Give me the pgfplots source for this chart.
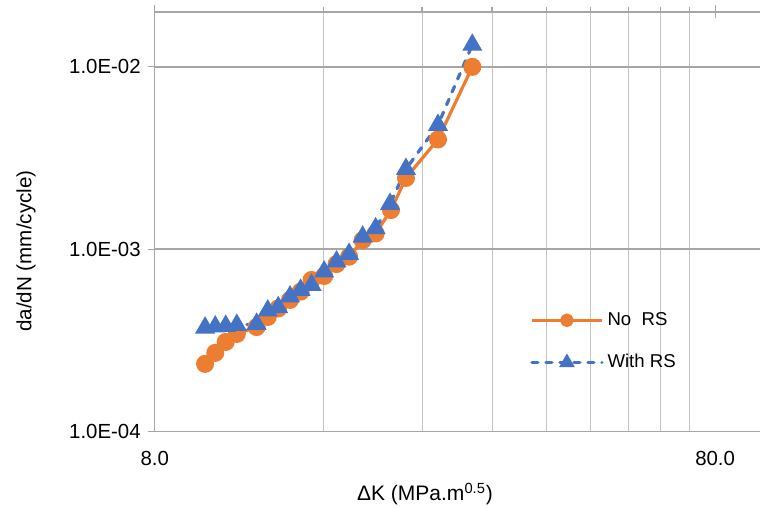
\documentclass[border=0pt]{standalone}
\usepackage{pgfplots}
\pgfplotsset{compat=1.18}
\usepackage{fontspec}
\setmainfont{Liberation Sans}
\definecolor{orangeC}{HTML}{ED7D31}
\definecolor{blueC}{HTML}{4472C4}
\definecolor{hgrid}{HTML}{A6A6A6}
\definecolor{vgrid}{HTML}{C4C4C4}
\pgfplotstableread{
x y
9.84 2.35e-4
10.26 2.70e-4
10.71 3.10e-4
11.21 3.43e-4
12.16 3.74e-4
12.73 4.25e-4
13.29 4.73e-4
13.95 5.27e-4
14.57 5.85e-4
15.24 6.78e-4
16.05 7.13e-4
16.89 8.29e-4
17.78 9.10e-4
18.80 1.12e-3
19.83 1.22e-3
21.12 1.64e-3
22.46 2.46e-3
25.62 4.00e-3
29.50 1.00e-2
}\noRS
\pgfplotstableread{
x y
9.84 3.71e-4
10.26 3.76e-4
10.71 3.79e-4
11.21 3.84e-4
12.16 3.89e-4
12.73 4.60e-4
13.29 4.80e-4
13.95 5.49e-4
14.57 5.97e-4
15.24 6.36e-4
16.05 7.53e-4
16.89 8.54e-4
17.78 9.41e-4
18.80 1.17e-3
19.83 1.30e-3
21.04 1.77e-3
22.46 2.75e-3
25.62 4.80e-3
29.50 1.32e-2
}\withRS
\begin{document}
\begin{tikzpicture}
\begin{axis}[
  at={(0,0)}, anchor=south west,
  width=302.65pt, height=209.75pt, scale only axis,
  xmode=log, ymode=log,
  xmin=8, xmax=96.2, ymin=1e-4, ymax=0.02,
  clip=false,
  axis line style={draw=none},
  xtick={8,80}, xticklabels={8.0,80.0},
  minor xtick={16,24,32,40,48,56,64,72},
  ytick={1e-4,1e-3,1e-2}, yticklabels={1.0E-04,1.0E-03,1.0E-02},
  yminorticks=false,
  xtick pos=right, xticklabel pos=left,
  ytick pos=left, yticklabel pos=left,
  tick align=outside,
  major tick length=3.5pt, minor tick length=2.5pt,
  tick style={hgrid, line width=0.6pt},
  xminorgrids=true, xmajorgrids=false, ymajorgrids=true,
  minor x grid style={vgrid, line width=0.55pt},
  major y grid style={hgrid, line width=0.7pt},
  tick label style={font=\fontsize{10.2}{12}\selectfont},
  xticklabel style={yshift=-3pt},
  xlabel={ΔK (MPa.m\textsuperscript{0.5})},
  ylabel={da/dN (mm/cycle)},
  xlabel style={at={(axis description cs:0.4466,-0.149)}, anchor=center, font=\fontsize{10.5}{12}\selectfont},
  ylabel style={at={(axis description cs:-0.2126,0.4303)}, anchor=center, font=\fontsize{10.3}{12}\selectfont},
  legend cell align=left,
  legend style={draw=none, fill=none, at={(axis description cs:0.610,0.2145)}, anchor=west,
    row sep=9pt, font=\fontsize{9.3}{11}\selectfont},
  legend image code/.code={
    \draw[mark repeat=2,mark phase=2,#1,every mark/.append style={scale=0.7}]
      plot coordinates {(0pt,0pt) (17.5pt,0pt) (35pt,0pt)};
  },
]
\addplot[color=orangeC, line width=1.6pt, mark=*, mark size=3.7pt, mark options={solid, fill=orangeC, draw=orangeC}] table[x=x,y=y] {\noRS};
\addlegendentry{No\ \ RS}
\addplot[color=blueC, line width=1.6pt, line cap=round, dash pattern=on 3pt off 4pt, mark=triangle*, mark size=4.2pt, mark options={solid, fill=blueC, draw=blueC}] table[x=x,y=y] {\withRS};
\addlegendentry{With RS}
\draw[hgrid, line width=0.7pt] (rel axis cs:0,0) -- (rel axis cs:0,1) -- (rel axis cs:1,1);
\draw[hgrid, line width=0.6pt] (axis cs:80,0.02) -- ([yshift=-2.75pt]axis cs:80,0.02);
\end{axis}
\pgfresetboundingbox
\path[use as bounding box] (-77.35pt,-38.25pt) rectangle (302.65pt,215.75pt);
\end{tikzpicture}
\end{document}
